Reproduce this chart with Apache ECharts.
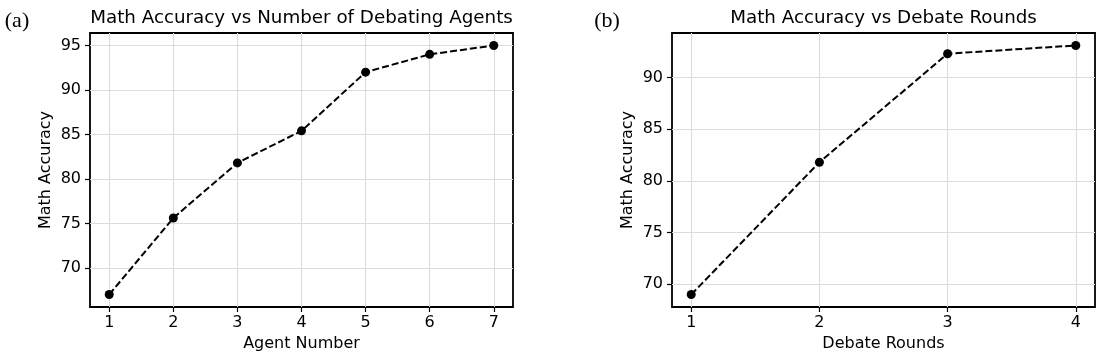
<!DOCTYPE html>
<html><head><meta charset="utf-8">
<script src="https://cdn.jsdelivr.net/npm/echarts@6/dist/echarts.min.js"></script>
<style>html,body{margin:0;padding:0;background:#fff}#c{width:1104px;height:357px}</style>
</head><body><div id="c"></div>
<script>
// ---- data ----
const agentNumbers = [1, 2, 3, 4, 5, 6, 7];
const agentAccuracy = [67, 75.6, 81.8, 85.4, 92, 94, 95];
const agentYTicks = [70, 75, 80, 85, 90, 95];
const debateRounds = [1, 2, 3, 4];
const roundAccuracy = [69, 81.8, 92.3, 93.1];
const roundYTicks = [70, 75, 80, 85, 90];
const titles = ['Math Accuracy vs Number of Debating Agents', 'Math Accuracy vs Debate Rounds'];
const xNames = ['Agent Number', 'Debate Rounds'];
const yName = 'Math Accuracy';
const panelTags = ['(a)', '(b)'];

// ---- helpers ----
const FONT = 'DejaVu Sans';
function pad(arr) { // matplotlib-like 5% margins
  const lo = Math.min(...arr), hi = Math.max(...arr), m = (hi - lo) * 0.05;
  return [lo - m, hi + m];
}
const panels = [
  { x: agentNumbers, y: agentAccuracy, yt: agentYTicks, grid: { left: 90, top: 33, width: 423, height: 276 } },
  { x: debateRounds, y: roundAccuracy, yt: roundYTicks, grid: { left: 672, top: 33, width: 423, height: 276 } }
];

const grid = [], xAxis = [], yAxis = [], series = [], graphic = [];
panels.forEach((p, i) => {
  const xr = pad(p.x), yr = pad(p.y);
  grid.push(Object.assign({ show: true, borderColor: '#000', borderWidth: 1.8, backgroundColor: '#fff', containLabel: false }, p.grid));
  xAxis.push({
    type: 'value', gridIndex: i, min: xr[0], max: xr[1],
    name: xNames[i], nameLocation: 'middle', nameGap: 29,
    nameTextStyle: { fontFamily: FONT, fontSize: 16, color: '#000' },
    axisLine: { show: false },
    axisTick: { show: true, inside: false, length: 5, customValues: p.x, lineStyle: { color: '#000', width: 1.2 } },
    axisLabel: { customValues: p.x, fontFamily: FONT, fontSize: 16, color: '#000', margin: 8 },
    splitLine: { show: false }
  });
  yAxis.push({
    type: 'value', gridIndex: i, min: yr[0], max: yr[1],
    name: yName, nameLocation: 'middle', nameGap: 36, nameRotate: 90,
    nameTextStyle: { fontFamily: FONT, fontSize: 16, color: '#000' },
    axisLine: { show: false },
    axisTick: { show: true, inside: false, length: 5, customValues: p.yt, lineStyle: { color: '#000', width: 1.2 } },
    axisLabel: { customValues: p.yt, fontFamily: FONT, fontSize: 16, color: '#000', margin: 9 },
    splitLine: { show: false }
  });
  // grid lines (drawn under the data line)
  series.push({
    type: 'line', xAxisIndex: i, yAxisIndex: i, z: 1,
    data: p.x.map((v, k) => [v, p.y[k]]),
    showSymbol: false, lineStyle: { opacity: 0 }, silent: true,
    markLine: {
      silent: true, symbol: 'none', label: { show: false }, animation: false,
      lineStyle: { color: '#dcdcdc', width: 1.1, type: 'solid' },
      data: [...p.x.map(v => ({ xAxis: v })), ...p.yt.map(v => ({ yAxis: v }))]
    }
  });
  series.push({
    type: 'line', xAxisIndex: i, yAxisIndex: i, z: 5,
    data: p.x.map((v, k) => [v, p.y[k]]),
    symbol: 'circle', symbolSize: 9, showSymbol: true,
    itemStyle: { color: '#000' },
    lineStyle: { color: '#000', width: 2, type: [7, 3] },
    animation: false
  });
  const cx = p.grid.left + p.grid.width / 2;
  graphic.push({ type: 'text', x: cx, y: 18,
    style: { text: titles[i], fontFamily: FONT, fontSize: 18.3, fill: '#000', align: 'center', verticalAlign: 'middle' } });
});
graphic.push({ type: 'text', x: 17, y: 21, style: { text: panelTags[0], fontFamily: 'Liberation Serif', fontSize: 22, fill: '#000', align: 'center', verticalAlign: 'middle' } });
graphic.push({ type: 'text', x: 607, y: 21, style: { text: panelTags[1], fontFamily: 'Liberation Serif', fontSize: 22, fill: '#000', align: 'center', verticalAlign: 'middle' } });

const chart = echarts.init(document.getElementById('c'), null, { renderer: 'canvas' });
chart.setOption({ animation: false, backgroundColor: '#fff', grid, xAxis, yAxis, series, graphic });
</script></body></html>
